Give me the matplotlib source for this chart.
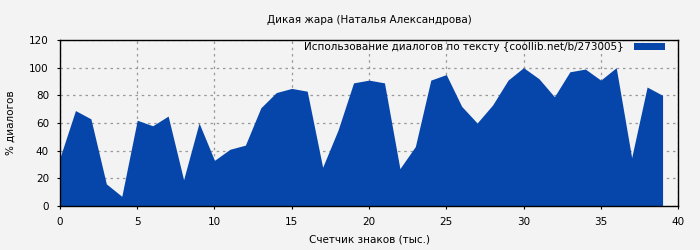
import matplotlib

matplotlib.use("Agg")
import matplotlib.pyplot as plt

# share of dialogue per thousand characters
pos_k = list(range(40))
dialog_pct = [35, 69, 63, 16, 7, 62, 58, 65, 19, 60,
              33, 41, 44, 71, 82, 85, 83, 28, 55, 89,
              91, 89, 27, 43, 91, 95, 72, 60, 73, 91,
              100, 92, 79, 97, 99, 91, 100, 35, 86, 80]

title = "Дикая жара (Наталья Александрова)"
series_label = "Использование диалогов по тексту {coollib.net/b/273005}"
xlabel = "Счетчик знаков (тыс.)"
ylabel = "% диалогов"

BG = "#f3f3f3"
FILL = "#0646aa"


def main():
    fig = plt.figure(figsize=(7, 2.5), dpi=100, facecolor=BG)
    ax = fig.add_axes([0.0857, 0.176, 0.8829, 0.664], facecolor=BG)
    ax.fill_between(pos_k, dialog_pct, 0, color=FILL, linewidth=0,
                    label=series_label, zorder=2)
    ax.set_xlim(0, 40)
    ax.set_ylim(0, 120)
    ax.set_xticks(range(0, 41, 5))
    ax.set_yticks(range(0, 121, 20))
    ax.grid(True, linestyle=(0, (2, 3)), color="#999999", linewidth=0.9, zorder=1)
    ax.tick_params(labelsize=7.5, length=2, width=0.8, direction="out", pad=6)
    for sp in ax.spines.values():
        sp.set_linewidth(1.0)
    ax.set_title(title, fontsize=7.5, pad=12)
    ax.set_xlabel(xlabel, fontsize=7.5, labelpad=5)
    ax.set_ylabel(ylabel, fontsize=7.5, labelpad=10)
    ax.legend(loc="upper right", bbox_to_anchor=(0.986, 1.012), frameon=False,
              fontsize=7.5, markerfirst=False, handlelength=3.0,
              handleheight=0.55, handletextpad=1.0, borderaxespad=0)
    fig.savefig("out.png", dpi=100, facecolor=BG)
    plt.close(fig)


if __name__ == "__main__":
    main()
